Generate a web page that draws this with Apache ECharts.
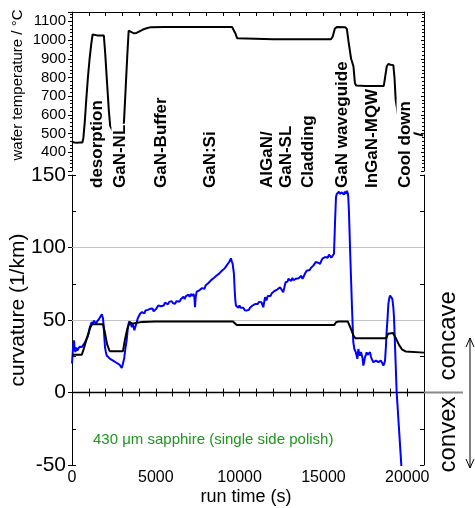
<!DOCTYPE html>
<html>
<head>
<meta charset="utf-8">
<script src="https://cdn.jsdelivr.net/npm/echarts@6/dist/echarts.min.js"></script>
<style>
  html, body { margin: 0; padding: 0; background: #fff; }
  #chart { width: 475px; height: 508px; }
</style>
</head>
<body>
<div id="chart"></div>
<script>
const FONT = '"Liberation Sans", Arial, sans-serif';

// wafer temperature (°C) against run time (s)
const tempData = [
  [0, 455], [80, 446], [160, 452], [240, 444], [320, 451], [400, 447], [480, 453], [560, 448],
  [620, 452], [680, 478], [760, 560], [850, 680], [950, 800], [1050, 900], [1150, 980], [1230, 1030],
  [1300, 1027], [1500, 1025], [1700, 1025], [1900, 1024], [1980, 930], [2100, 760], [2200, 620],
  [2280, 540], [2400, 520], [2700, 518], [3000, 522], [3100, 560], [3200, 740], [3300, 920],
  [3380, 1050], [3450, 1055], [3550, 1042], [3700, 1036], [3850, 1038], [4000, 1045], [4200, 1055],
  [4450, 1063], [4700, 1069], [5500, 1070], [6500, 1070], [7500, 1070], [8500, 1070], [9550, 1070],
  [9650, 1065], [9750, 1035], [9850, 1010], [9950, 1005], [12000, 1004], [15450, 1004], [15550, 1018],
  [15680, 1060], [15800, 1070], [16300, 1069], [16400, 1058], [16500, 990], [16650, 900], [16790, 860],
  [16880, 770], [16950, 757], [17500, 755], [18600, 755], [18680, 760], [18780, 860], [18870, 872],
  [19000, 868], [19170, 866], [19240, 800], [19310, 680], [19450, 600], [19700, 540], [20100, 510],
  [20700, 495], [20950, 490]
];

// curvature (1/km), black trace
const curvBlackData = [
  [0, 26], [580, 26], [700, 30], [900, 38], [1100, 45], [1200, 47], [1850, 47], [1950, 42],
  [2100, 33], [2250, 28.5], [3040, 28.5], [3150, 36], [3300, 44], [3450, 48.5], [3600, 47.5],
  [3800, 48], [4200, 48.7], [5000, 49], [9600, 49], [9700, 48], [9830, 46.5], [15650, 46.5],
  [15750, 48.5], [15900, 49], [16450, 49], [16600, 45], [16800, 39], [16900, 37.5], [18750, 37.5],
  [18850, 40.5], [18950, 41], [19150, 41], [19300, 38], [19500, 33], [19700, 29.5], [19900, 28.3],
  [21000, 27.5]
];

// curvature (1/km), blue trace
const curvBlueData = [
  [0, 20], [40, 27], [80, 33], [120, 36], [160, 30], [200, 28], [260, 31], [320, 29], [380, 30],
  [450, 31.5], [520, 30.5], [580, 31.3], [650, 32], [720, 33.5], [780, 34], [850, 36.5], [920, 38],
  [975, 40], [1040, 44], [1100, 46], [1175, 48.5], [1230, 47], [1300, 49.5], [1370, 49], [1440, 47.5],
  [1500, 49], [1570, 48.5], [1630, 51], [1670, 52], [1720, 51], [1780, 54], [1810, 54.7], [1850, 51],
  [1880, 47], [1930, 38], [1970, 31], [2020, 28], [2070, 25.5], [2150, 24.5], [2270, 23.2], [2350, 22.5],
  [2450, 22], [2565, 21], [2650, 20.5], [2765, 19.8], [2850, 19], [2920, 18], [2965, 17], [3020, 19],
  [3060, 18.6], [3120, 24], [3180, 30], [3260, 36], [3330, 44], [3400, 49], [3460, 49.7], [3520, 47],
  [3570, 45], [3620, 47.5], [3660, 46], [3720, 43], [3760, 42.8], [3800, 46], [3860, 48.5], [3920, 51],
  [3980, 50], [4060, 54.3], [4120, 53], [4180, 55.5], [4255, 56.6], [4320, 54.5], [4380, 56.5],
  [4455, 55.4], [4530, 57], [4600, 56], [4655, 57.7], [4720, 57], [4800, 58], [4870, 56], [4950, 55.4],
  [5010, 57.5], [5080, 58.5], [5150, 60], [5250, 61.2], [5320, 59.5], [5400, 60.5], [5470, 60],
  [5550, 62], [5650, 62.3], [5720, 60.8], [5800, 62.5], [5880, 61.5], [5950, 63], [6030, 61.5],
  [6100, 62.5], [6150, 61.2], [6230, 63], [6300, 62.5], [6345, 63.9], [6420, 62.8], [6500, 64.5],
  [6580, 63.5], [6650, 66], [6720, 64.5], [6800, 66.5], [6880, 65.5], [6950, 67.5], [7020, 66],
  [7100, 68], [7170, 66.5], [7240, 68], [7300, 66], [7340, 58.8], [7380, 66], [7440, 69.5], [7520, 68.5],
  [7600, 70.5], [7680, 69.5], [7760, 72], [7840, 72.6], [7900, 71.5], [7980, 74], [8060, 73],
  [8140, 75.5], [8220, 75], [8300, 77.5], [8380, 76.5], [8460, 79], [8540, 78.5], [8630, 80.7],
  [8700, 80], [8780, 82], [8860, 81.5], [8940, 84], [9020, 83.5], [9100, 85.5], [9180, 86], [9250, 88],
  [9320, 87.5], [9380, 90], [9430, 91], [9480, 92.5], [9530, 90.5], [9580, 89], [9620, 88.7],
  [9660, 82], [9700, 72], [9740, 64], [9780, 60], [9860, 61.2], [9920, 58.5], [9990, 60], [10060, 58.5],
  [10150, 57.5], [10220, 58.5], [10300, 56.8], [10380, 57.5], [10420, 56.6], [10480, 55.8], [10550, 57],
  [10620, 58.5], [10700, 58], [10770, 60], [10850, 59.5], [10920, 61], [11000, 62], [11080, 61],
  [11150, 62.5], [11220, 61.5], [11300, 62.3], [11360, 60.5], [11410, 58.8], [11460, 60], [11520, 65.7],
  [11600, 63.5], [11680, 66.5], [11760, 67.5], [11840, 66.5], [11920, 68.5], [12000, 68], [12080, 70],
  [12160, 69.5], [12240, 71], [12320, 70.5], [12410, 72.5], [12500, 71], [12600, 69.2], [12680, 73],
  [12740, 76], [12800, 77.2], [12860, 76.5], [12910, 78.4], [13000, 78], [13080, 77], [13150, 79],
  [13220, 77.5], [13300, 77.2], [13370, 78.5], [13440, 79.5], [13520, 78.8], [13600, 79.5],
  [13680, 80.5], [13750, 78.4], [13820, 80], [13900, 82], [14000, 84], [14100, 85.2], [14180, 84.5],
  [14260, 86], [14330, 85.2], [14400, 87.5], [14480, 88.5], [14540, 90], [14600, 91], [14680, 89.5],
  [14750, 90.5], [14800, 88.7], [14880, 91], [14950, 92.5], [15020, 92], [15100, 93.4], [15190, 94.5],
  [15260, 93], [15330, 95], [15400, 94.5], [15470, 93], [15550, 92.2], [15630, 95.7], [15700, 120],
  [15750, 134.8], [15800, 137], [15860, 136], [15920, 138.5], [15980, 137], [16040, 136], [16100, 138],
  [16160, 137.5], [16220, 136.5], [16280, 138.5], [16340, 137], [16400, 139], [16460, 137], [16480, 135],
  [16520, 125.5], [16600, 95], [16700, 60], [16780, 35], [16845, 30], [16930, 27.8], [17025, 23.2],
  [17085, 30], [17130, 27], [17185, 25.5], [17240, 28], [17285, 29], [17330, 24], [17380, 18.6],
  [17430, 21], [17480, 24.4], [17530, 26], [17580, 27.8], [17630, 26], [17680, 25.5], [17730, 26.5],
  [17780, 27.8], [17830, 25], [17880, 23.2], [17930, 22], [17980, 20.9], [18060, 21.5], [18140, 22],
  [18210, 21], [18280, 20.9], [18350, 21.5], [18420, 22], [18500, 20.5], [18575, 18.6], [18630, 20],
  [18675, 22], [18730, 32], [18775, 42.8], [18830, 52], [18875, 61.2], [18930, 65], [18975, 66.9],
  [19035, 68], [19080, 66.5], [19110, 64.6], [19170, 58.8], [19210, 52], [19370, 0], [19630, -47],
  [19700, -60]
];

// growth steps written along the top panel
const stageNames = ['desorption', 'GaN-NL', 'GaN-Buffer', 'GaN:Si', 'AlGaN/', 'GaN-SL', 'Cladding',
  'GaN waveguide', 'InGaN-MQW', 'Cool down'];
const stageTimes = [1490, 2860, 5350, 8230, 11630, 12770, 14080, 16110, 17900, 19870];

const chart = echarts.init(document.getElementById('chart'));

const line = { show: true, lineStyle: { color: '#000', width: 1 } };
const noLabel = { show: false };

const option = {
  animation: false,
  backgroundColor: '#fff',
  grid: [
    { left: 72, right: 51, top: 12, height: 159 },
    { left: 72, right: 51, top: 175, bottom: 43 }
  ],
  xAxis: [
    {
      gridIndex: 0, type: 'value', position: 'top', min: 0, max: 21000, interval: 1000,
      axisLine: line, axisTick: { inside: true, length: 4, lineStyle: { color: '#000' } },
      axisLabel: noLabel, splitLine: { show: false }
    },
    {
      gridIndex: 1, type: 'value', position: 'bottom', min: 0, max: 21000, interval: 1000,
      axisLine: line, axisTick: { inside: true, length: 4, lineStyle: { color: '#000' } },
      axisLabel: {
        color: '#000', fontSize: 16, fontFamily: FONT, margin: 5,
        formatter: v => (v % 5000 === 0 ? String(v) : '')
      },
      splitLine: { show: false }
    },
    {
      gridIndex: 1, type: 'value', position: 'top', min: 0, max: 21000, interval: 1000,
      axisLine: line, axisTick: { inside: true, length: 4, lineStyle: { color: '#000' } },
      axisLabel: noLabel, splitLine: { show: false }
    }
  ],
  yAxis: [
    {
      gridIndex: 0, type: 'value', position: 'left', min: 300, max: 1150, interval: 100,
      axisLine: line, axisTick: { show: true, length: 4, lineStyle: { color: '#000' } },
      minorTick: { show: true, splitNumber: 5, length: 2, lineStyle: { color: '#000' } },
      axisLabel: {
        color: '#000', fontSize: 15, fontFamily: FONT, margin: 6,
        formatter: v => (v >= 400 && v <= 1100 ? String(v) : '')
      },
      splitLine: { show: false }
    },
    {
      gridIndex: 0, type: 'value', position: 'right', min: 300, max: 1150, interval: 100,
      axisLine: line, axisTick: { show: true, inside: true, length: 3, lineStyle: { color: '#000' } },
      minorTick: { show: true, splitNumber: 5, length: 2, lineStyle: { color: '#000' } },
      axisLabel: noLabel, splitLine: { show: false }
    },
    {
      gridIndex: 1, type: 'value', position: 'left', min: -50, max: 150, interval: 50,
      axisLine: line, axisTick: { show: true, length: 4, lineStyle: { color: '#000' } },
      axisLabel: { color: '#000', fontSize: 21, fontFamily: FONT, margin: 6 },
      splitLine: { show: false }
    },
    {
      gridIndex: 1, type: 'value', position: 'left', min: -50, max: 150, interval: 25,
      axisLine: { show: false },
      axisTick: { show: true, inside: true, length: 4, lineStyle: { color: '#000' } },
      axisLabel: noLabel, splitLine: { show: false }
    },
    {
      gridIndex: 1, type: 'value', position: 'right', min: -50, max: 150, interval: 25,
      axisLine: line, axisTick: { show: true, inside: true, length: 4, lineStyle: { color: '#000' } },
      axisLabel: noLabel, splitLine: { show: false }
    }
  ],
  series: [
    {
      name: 'wafer temperature', type: 'line', xAxisIndex: 0, yAxisIndex: 0,
      data: tempData, showSymbol: false, z: 3,
      lineStyle: { color: '#000', width: 2 }
    },
    {
      name: 'curvature blue', type: 'line', xAxisIndex: 1, yAxisIndex: 2,
      data: curvBlueData, showSymbol: false, z: 3, clip: true,
      lineStyle: { color: '#0000ff', width: 2 },
      markLine: {
        silent: true, symbol: 'none', z: 1, label: { show: false },
        data: [
          { yAxis: 100, lineStyle: { color: '#c4c4c4', width: 1, type: 'solid' } },
          { yAxis: 50, lineStyle: { color: '#c4c4c4', width: 1, type: 'solid' } },
          { yAxis: 0, lineStyle: { color: '#000', width: 1.3, type: 'solid' } }
        ]
      }
    },
    {
      name: 'curvature black', type: 'line', xAxisIndex: 1, yAxisIndex: 2,
      data: curvBlackData, showSymbol: false, z: 4,
      lineStyle: { color: '#000', width: 2 }
    }
  ]
};

chart.setOption(option);

// decorations positioned from the axes
const xPx = t => chart.convertToPixel({ xAxisIndex: 1 }, t);
const zeroY = chart.convertToPixel({ yAxisIndex: 2 }, 0);
const rightX = xPx(21000);
const labelBase = 189;

const graphics = stageNames.map((name, i) => ({
  type: 'text', z: 100,
  x: xPx(stageTimes[i]), y: labelBase, rotation: Math.PI / 2,
  style: {
    text: name, font: 'bold 17px ' + FONT, fill: '#000',
    align: 'left', verticalAlign: 'middle', backgroundColor: '#fff', padding: [0, 1]
  }
}));

const greenPos = chart.convertToPixel({ xAxisIndex: 1, yAxisIndex: 2 }, [1250, -33]);

graphics.push(
  {
    type: 'text', z: 100, x: 18, y: 85, rotation: Math.PI / 2,
    style: { text: 'wafer temperature / °C', font: '15px ' + FONT, fill: '#000', align: 'center', verticalAlign: 'middle' }
  },
  {
    type: 'text', z: 100, x: 18, y: 310, rotation: Math.PI / 2,
    style: { text: 'curvature (1/km)', font: '21px ' + FONT, fill: '#000', align: 'center', verticalAlign: 'middle' }
  },
  {
    type: 'text', z: 100, x: 246, y: 497,
    style: { text: 'run time (s)', font: '18px ' + FONT, fill: '#000', align: 'center', verticalAlign: 'middle' }
  },
  {
    type: 'text', z: 100, x: greenPos[0], y: greenPos[1],
    style: { text: '430 μm sapphire (single side polish)', font: '15px ' + FONT, fill: '#1e961e', align: 'left', verticalAlign: 'middle' }
  },
  {
    type: 'text', z: 100, x: 448, y: zeroY - 12, rotation: Math.PI / 2,
    style: { text: 'concave', font: '24px ' + FONT, fill: '#000', align: 'left', verticalAlign: 'middle' }
  },
  {
    type: 'text', z: 100, x: 448, y: zeroY + 4, rotation: Math.PI / 2,
    style: { text: 'convex', font: '24px ' + FONT, fill: '#000', align: 'right', verticalAlign: 'middle' }
  },
  {
    type: 'line', z: 100,
    shape: { x1: rightX, y1: zeroY, x2: 463, y2: zeroY },
    style: { stroke: '#888', lineWidth: 2 }
  },
  {
    type: 'polyline', z: 100,
    shape: { points: [[470, 338], [470, 468]] },
    style: { stroke: '#000', lineWidth: 1, fill: null }
  },
  {
    type: 'polyline', z: 100,
    shape: { points: [[466, 347], [470, 338], [474, 347]] },
    style: { stroke: '#000', lineWidth: 1, fill: null }
  },
  {
    type: 'polyline', z: 100,
    shape: { points: [[466, 459], [470, 468], [474, 459]] },
    style: { stroke: '#000', lineWidth: 1, fill: null }
  }
);

chart.setOption({ graphic: graphics });
</script>
</body>
</html>
